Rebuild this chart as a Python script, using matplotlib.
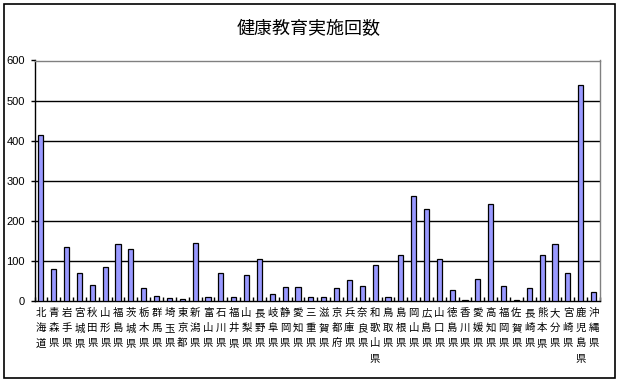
import matplotlib
matplotlib.use("Agg")
import matplotlib.pyplot as plt
from matplotlib.patches import Rectangle
import numpy as np

plt.rcParams['font.family'] = ['Noto Sans CJK JP', 'DejaVu Sans']

# data
prefs = ["北海道", "青森県", "岩手県", "宮城県", "秋田県", "山形県", "福島県", "茨城県",
         "栃木県", "群馬県", "埼玉県", "東京都", "新潟県", "富山県", "石川県", "福井県",
         "山梨県", "長野県", "岐阜県", "静岡県", "愛知県", "三重県", "滋賀県", "京都府",
         "兵庫県", "奈良県", "和歌山県", "鳥取県", "島根県", "岡山県", "広島県", "山口県",
         "徳島県", "香川県", "愛媛県", "高知県", "福岡県", "佐賀県", "長崎県", "熊本県",
         "大分県", "宮崎県", "鹿児島県", "沖縄県"]
counts = [413, 79, 134, 69, 41, 86, 141, 129,
          32, 12, 7, 4, 144, 9, 71, 9,
          64, 106, 17, 34, 34, 9, 9, 32,
          52, 37, 91, 9, 114, 263, 229, 106,
          27, 2, 54, 241, 37, 1.5, 32, 116,
          141, 69, 540, 22]
yticks = [0, 100, 200, 300, 400, 500, 600]

W, H = 619, 382
fig = plt.figure(figsize=(W / 100, H / 100), dpi=100)
fig.patch.set_facecolor("white")

# outer chart border
fig.patches.append(Rectangle((4 / W, 4 / H), (615 - 4) / W, (378 - 4) / H,
                             transform=fig.transFigure, fill=False,
                             edgecolor="black", linewidth=1.2))

left, right, top, bottom = 34.5, 600, 60.5, 301
ax = fig.add_axes([left / W, 1 - bottom / H, (right - left) / W, (bottom - top) / H])

x = np.arange(len(prefs))
ax.bar(x, counts, width=0.4, color="#9999FF", edgecolor="black", linewidth=0.9, zorder=3)

ax.set_xlim(-0.5, len(prefs) - 0.5)
ax.set_ylim(0, 600)
ax.set_yticks(yticks)
ax.set_yticklabels([str(v) for v in yticks], fontsize=8, family=['Liberation Sans', 'DejaVu Sans'])
for v in yticks[1:-1]:
    ax.axhline(v, color="black", linewidth=1.0, zorder=1)

ax.spines["top"].set_color("#808080")
ax.spines["right"].set_color("#808080")
ax.spines["left"].set_color("black")
ax.spines["bottom"].set_color("black")
for s in ax.spines.values():
    s.set_linewidth(1.0)

ax.tick_params(axis="y", direction="out", length=3, width=1, pad=4)
# category names stacked vertically, one character per row
ax.set_xticks(x)
ax.set_xticklabels(["\n".join(p) for p in prefs], fontsize=7.5, linespacing=1.65,
                   va="top")
ax.tick_params(axis="x", length=0, pad=5)
# small tick marks between categories
ax.set_xticks(np.arange(-0.5, len(prefs), 1.0), minor=True)
ax.tick_params(axis="x", which="minor", direction="in", length=3, width=1)

fig.text(309 / W, 1 - 29 / H, "健康教育実施回数", ha="center", va="center", fontsize=13)

fig.savefig("out.png", dpi=100)
